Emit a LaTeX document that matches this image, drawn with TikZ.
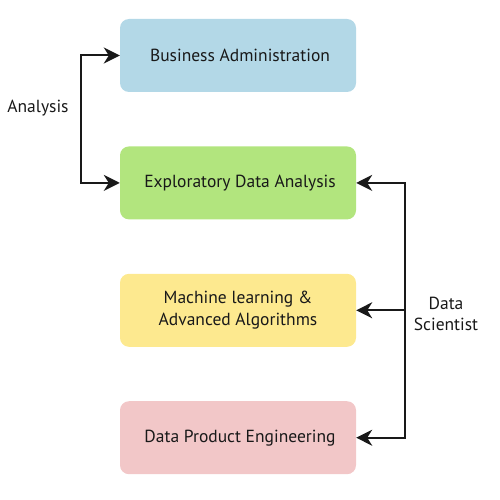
\documentclass[tikz,border=0pt]{standalone}
\usepackage{fontspec}
\setmainfont{PT Sans}
\usetikzlibrary{positioning,arrows.meta}
\definecolor{adminblue}{HTML}{B3D8E7}
\definecolor{edagreen}{HTML}{B2E57E}
\definecolor{mlyellow}{HTML}{FDE98F}
\definecolor{dpepink}{HTML}{F2C7C8}

\begin{document}
\begin{tikzpicture}[x=1pt, y=-1pt, font=\fontsize{17.5}{21.5}\selectfont, text=black!90]

\tikzset{
	stage/.style = {
		rectangle, rounded corners = 9pt, align = center,
		minimum width = 236pt, minimum height = 73pt, inner sep = 0pt
	},
	link/.style = {
		line width = 2pt, color = black!90,
		-{Stealth[length = 16pt, width = 16pt, inset = 5pt]}
	},
	twolink/.style = {
		link, {Stealth[length = 16pt, width = 16pt, inset = 5pt]}-{Stealth[length = 16pt, width = 16pt, inset = 5pt]}
	}
}

\useasboundingbox (0,0) rectangle (500,500);

% Etapas
\node[stage, fill = adminblue] (BA) at (238,55.5) {\hspace{4pt}Business Administration};
\node[stage, fill = edagreen, below = 54pt of BA] (EDA) {\hspace{4pt}Exploratory Data Analysis};
\node[stage, fill = mlyellow, below = 54pt of EDA] (ML) {Machine learning \&\\Advanced Algorithms};
\node[stage, fill = dpepink, below = 54pt of ML] (DPE) {\hspace{4pt}Data Product Engineering};

% Puntos de las líneas
\coordinate (AN) at (81,119);
\coordinate (DS) at (405,0);
\coordinate (DSc) at (DS |- ML.east);

\draw[twolink] (BA.west) -| (AN) |- (EDA.west);
\draw[twolink] (EDA.east) -| (DSc) |- (DPE.east);
\draw[link] (DSc) -- (ML.east);

\node (AnLabel) at (38,108) {Analysis};
\node[align = center] (DSLabel) at (446,314) {Data\\Scientist};
\end{tikzpicture}
\end{document}
